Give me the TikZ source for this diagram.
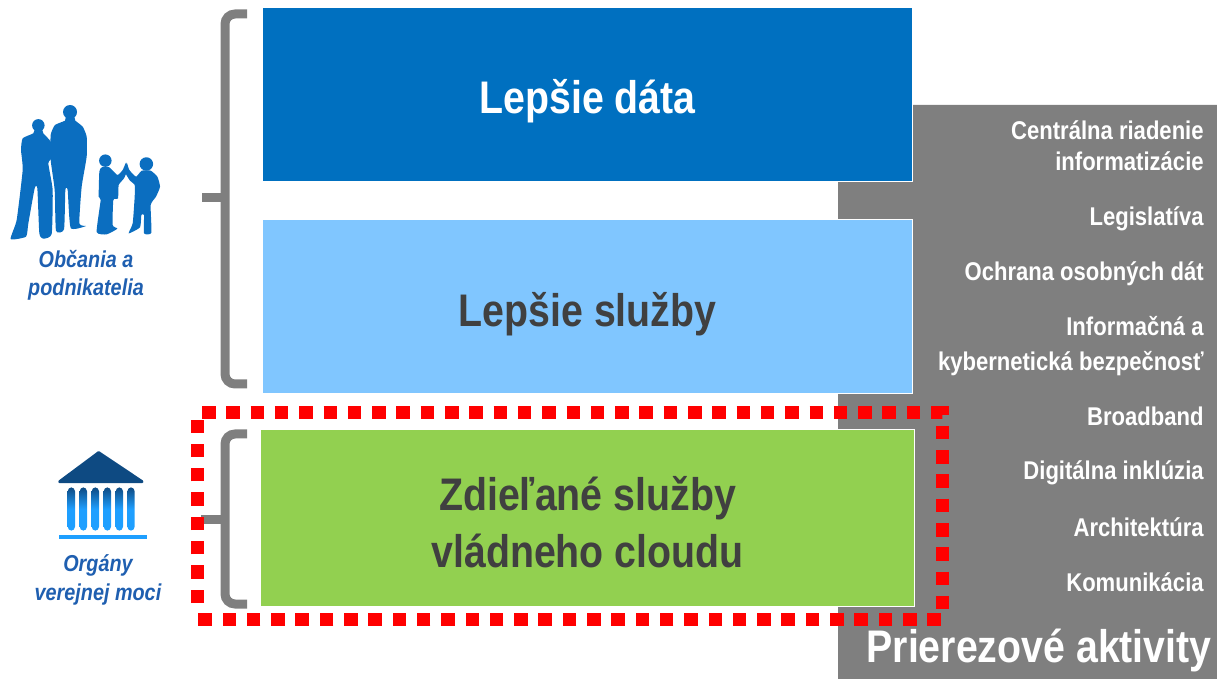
\documentclass[tikz,border=0pt]{standalone}
\usepackage{fontspec}
\setmainfont{Liberation Sans}
\newfontfamily\narrowfont[FakeStretch=0.86]{Liberation Sans}
\usetikzlibrary{positioning}
\definecolor{databkg}{HTML}{0070C0}
\definecolor{servbkg}{HTML}{80C6FF}
\definecolor{cloudbkg}{HTML}{92D050}
\definecolor{crossbkg}{HTML}{7F7F7F}
\definecolor{darktxt}{HTML}{404040}
\definecolor{sidetxt}{HTML}{1F5FB0}
\definecolor{peopleblue}{HTML}{0B6EC0}
\definecolor{roofblue}{HTML}{0E4A82}
\definecolor{pillarblue}{HTML}{1E9FFF}
\begin{document}
\begin{tikzpicture}
\tikzstyle{panel}=[draw=white,line width=.4pt,inner sep=0pt,minimum width=13cm,minimum height=3.48cm]
\tikzstyle{paneltxt}=[inner sep=0pt,align=center,font=\narrowfont\bfseries\fontsize{26}{32.5}\selectfont]
\tikzstyle{topic}=[anchor=east,inner sep=0pt,align=right,text=white,font=\narrowfont\bfseries\fontsize{14.6}{17.4}\selectfont]
\tikzstyle{sidelabel}=[inner sep=0pt,align=center,text=sidetxt,font=\narrowfont\bfseries\itshape\fontsize{13.1}{16}\selectfont]
\tikzstyle{brace}=[draw=crossbkg,line width=.18cm,rounded corners=.2cm]
\tikzstyle{bracetip}=[draw=crossbkg,line width=.18cm]
\tikzstyle{person}=[fill=peopleblue]
\tikzstyle{pillar}=[top color=roofblue,bottom color=pillarblue,middle color=pillarblue,rounded corners=.08cm]
\tikzstyle{focus}=[red,line width=.26cm,dash pattern=on .27cm off .216cm]
\useasboundingbox (0,0) rectangle (24.34,-13.58);
% grey block behind the panels
\fill [crossbkg] (18.24,-2.1) -- (24.34,-2.1) -- (24.34,-13.58) -- (16.76,-13.58) -- (16.76,-3.6) -- (18.24,-3.6) -- cycle;
% panels
\node [panel,fill=databkg,label={[paneltxt,text=white,yshift=-.14cm]center:Lepšie dáta}] at (11.75,-1.88) (data) {};
\node [panel,fill=servbkg,label={[paneltxt,text=darktxt,yshift=-.16cm]center:Lepšie služby}] at (11.75,-6.12) (serv) {};
\node [panel,fill=cloudbkg,minimum width=13.08cm,minimum height=3.54cm,label={[paneltxt,text=darktxt,yshift=-.08cm]center:Zdieľané služby\\vládneho cloudu}] at (11.75,-10.36) (cloud) {};
% topics
\node [topic] at (24.08,-2.92) (t1) {Centrálna riadenie\\informatizácie};
\node [topic] at (24.08,-4.38) (t2) {Legislatíva};
\node [topic] at (24.08,-5.48) (t3) {Ochrana osobných dát};
\node [topic] at (24.08,-6.92) (t4) {Informačná a\\[2.5pt]kybernetická bezpečnosť};
\node [topic] at (24.08,-8.32) (t5) {Broadband};
\node [topic] at (24.08,-9.45) (t6) {Digitálna inklúzia};
\node [topic] at (24.08,-10.54) (t7) {Architektúra};
\node [topic] at (24.08,-11.64) (t8) {Komunikácia};
\node [topic,font=\narrowfont\bfseries\fontsize{26}{30}\selectfont] at (24.24,-13) (tall) {Prierezové aktivity};
% braces
\draw [brace] (4.94,-.28) -- (4.5,-.28) -- (4.5,-7.68) -- (4.94,-7.68);
\draw [bracetip] (4.04,-3.96) -- (4.5,-3.96);
\draw [brace] (4.94,-8.68) -- (4.5,-8.68) -- (4.5,-12.08) -- (4.94,-12.08);
\draw [bracetip] (4.02,-10.4) -- (4.5,-10.4);
% people
\begin{scope}[x=.00667cm,y=-.00667cm,yshift=-1.8cm]
\fill [person] (210,66) circle [radius=.14cm];
\fill [person] (115,106) circle [radius=.125cm];
\fill [person] (316,212) circle [radius=.125cm];
\fill [person] (439,222) circle [radius=.135cm];
\fill [person] plot [smooth cycle,tension=.3] coordinates {(152,135) (165,105) (195,92) (198,78) (222,78) (226,92) (248,110) (260,140) (260,200) (245,290) (238,400) (258,408) (212,414) (203,300) (196,300) (192,418) (168,422) (164,300) (152,210)};
\fill [person] plot [smooth cycle,tension=.3] coordinates {(68,145) (100,130) (105,115) (125,115) (130,130) (152,155) (158,200) (145,220) (158,300) (155,432) (130,446) (118,430) (112,295) (104,295) (85,400) (78,440) (32,447) (50,390) (68,240) (63,180)};
\fill [person] plot [smooth cycle,tension=.3] coordinates {(298,245) (305,232) (328,232) (352,255) (368,240) (378,218) (382,240) (372,265) (356,285) (354,325) (340,330) (338,405) (352,416) (320,433) (290,426) (302,330) (296,320)};
\fill [person] plot [smooth cycle,tension=.3] coordinates {(380,218) (388,240) (408,260) (425,242) (452,242) (472,260) (480,290) (468,320) (452,345) (454,428) (432,430) (432,375) (424,375) (420,412) (386,430) (398,400) (404,320) (404,285) (390,272) (376,248)};
\end{scope}
\node [sidelabel] at (1.72,-5.5) (people) {Občania a\\podnikatelia};
% building
\begin{scope}[x=.00667cm,y=-.00667cm,yshift=-8cm]
\filldraw [roofblue,line width=.06cm,line join=round] (296,158) -- (426,245) -- (179,245) -- cycle;
\foreach \x in {214,250,286,322,358,393} {
  \shade [pillar] (\x-11,262) rectangle (\x+11,392);
}
\fill [pillarblue] (177,404) rectangle (440,418);
\end{scope}
\node [sidelabel] at (1.96,-11.6) (organs) {Orgány\\verejnej moci};
% highlight
\coordinate (f1) at (4.04,-8.25);
\coordinate (f2) at (18.84,-8.25);
\coordinate (f3) at (18.84,-12.38);
\coordinate (f4) at (3.94,-12.38);
\coordinate (f5) at (3.94,-12.06);
\coordinate (f6) at (3.94,-8.4);
\draw [focus] (f1) -- (f2) -- (f3) -- (f4);
\draw [focus] (f5) -- (f6);
\end{tikzpicture}
\end{document}
